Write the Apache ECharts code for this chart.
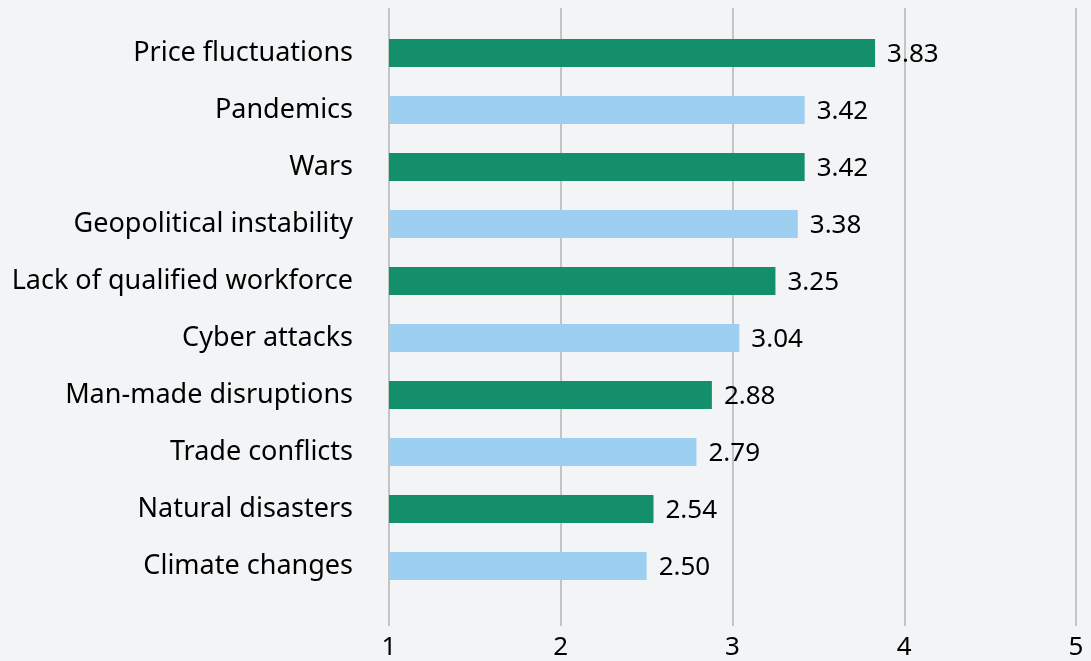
<!DOCTYPE html>
<html><head><meta charset="utf-8">
<script src="https://cdn.jsdelivr.net/npm/echarts@6/dist/echarts.min.js"></script>
<style>html,body{margin:0;padding:0;background:#f2f4f6;}#c{width:1091px;height:661px;}</style>
</head><body><div id="c"></div>
<script>
const categories = ["Price fluctuations","Pandemics","Wars","Geopolitical instability","Lack of qualified workforce","Cyber attacks","Man-made disruptions","Trade conflicts","Natural disasters","Climate changes"];
const values = [3.83,3.42,3.42,3.38,3.25,3.04,2.88,2.79,2.54,2.50];
const xMin = 1, xMax = 5, xStep = 1;

const FONT = 'Noto Sans';
const chart = echarts.init(document.getElementById('c'), null, {renderer:'canvas'});
chart.setOption({
  backgroundColor:'#f2f4f6',
  animation:false,
  grid:[
    {left:389, right:15, top:8, bottom:35},
    {left:389, right:15, top:24.5, bottom:66.5}
  ],
  xAxis:[
    {gridIndex:0, type:'value', min:xMin, max:xMax, interval:xStep,
     axisLine:{show:false}, axisTick:{show:false},
     splitLine:{show:true, lineStyle:{color:'#b4b4b4', width:1.5}},
     axisLabel:{color:'#000', fontFamily:FONT, fontSize:26, margin:9}},
    {gridIndex:1, type:'value', min:xMin, max:xMax, interval:xStep, show:false, splitLine:{show:false}}
  ],
  yAxis:[
    {gridIndex:0, type:'value', show:false, splitLine:{show:false}},
    {gridIndex:1, type:'category', data:categories, inverse:true,
     axisLine:{show:false}, axisTick:{show:false}, splitLine:{show:false},
     axisLabel:{color:'#000', fontFamily:FONT, fontSize:27, margin:36, padding:[0,0,11,0]}}
  ],
  series:[{
    type:'bar', xAxisIndex:1, yAxisIndex:1, data:values, barWidth:28,
    itemStyle:{color:p => p.dataIndex % 2 === 0 ? '#138f6c' : '#9dcff0'},
    label:{show:true, position:'right', distance:12, offset:[0,2], color:'#000', fontFamily:FONT, fontSize:26,
      formatter:p => p.value.toFixed(2)}
  }]
});
</script></body></html>
